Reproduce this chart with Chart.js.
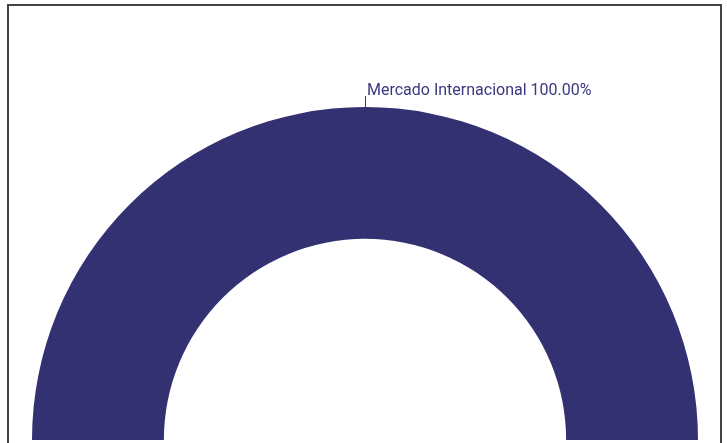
<!DOCTYPE html>
<html>
<head>
<meta charset="utf-8">
<script src="https://cdn.jsdelivr.net/npm/chart.js@4/dist/chart.umd.min.js"></script>
<style>
  html, body { margin: 0; padding: 0; background: #fff; overflow: hidden; }
  #frame { position: absolute; left: 7px; top: 4px; width: 711px; height: 460px; border: 2px solid #444; }
  #wrap { position: absolute; left: 0; top: 0; width: 727px; height: 443px; }
</style>
</head>
<body>
<div id="frame"></div>
<div id="wrap"><canvas id="chartArea" width="727" height="443"></canvas></div>
<script>
var labelsName = ['Mercado Internacional'];
var values = [100];
var colors = ['#343173'];

// draws "name pct%" above each slice with a short leader line
var sliceLabels = {
    id: 'sliceLabels',
    afterDatasetsDraw: function(chart) {
        var ctx = chart.ctx;
        var meta = chart.getDatasetMeta(0);
        var total = values.reduce(function(a, b) { return a + b; }, 0);
        meta.data.forEach(function(arc, i) {
            var mid = (arc.startAngle + arc.endAngle) / 2;
            var x = arc.x + Math.cos(mid) * arc.outerRadius;
            var y = arc.y + Math.sin(mid) * arc.outerRadius;
            ctx.save();
            ctx.strokeStyle = '#3b3880';
            ctx.lineWidth = 1;
            ctx.beginPath();
            ctx.moveTo(Math.round(x) + 0.5, y);
            ctx.lineTo(Math.round(x) + 0.5, y - 11);
            ctx.stroke();
            ctx.fillStyle = '#3b3880';
            ctx.font = '16px Roboto';
            ctx.textBaseline = 'alphabetic';
            ctx.textAlign = 'left';
            var pct = (values[i] / total * 100).toFixed(2);
            ctx.fillText(labelsName[i] + ' ' + pct + '%', Math.round(x) + 2, y - 12);
            ctx.restore();
        });
    }
};

var config = {
    type: 'doughnut',
    data: {
        labels: labelsName,
        datasets: [{
            data: values,
            backgroundColor: colors,
            borderWidth: 0
        }]
    },
    options: {
        responsive: false,
        animation: false,
        rotation: -90,
        circumference: 180,
        cutout: '60.4%',
        layout: { padding: { left: 32, right: 29, top: 107, bottom: 3 } },
        plugins: {
            legend: { display: false },
            title: { display: false },
            tooltip: { enabled: false }
        }
    },
    plugins: [sliceLabels]
};

var ctx = document.getElementById('chartArea').getContext('2d');
window.myDoughnut = new Chart(ctx, config);
</script>
</body>
</html>
